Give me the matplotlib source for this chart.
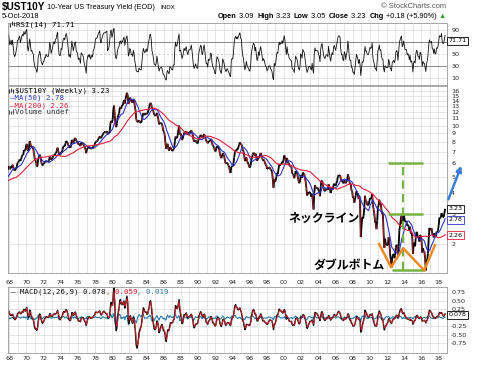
import numpy as np
import pandas as pd
import matplotlib
matplotlib.use("Agg")
import matplotlib.pyplot as plt
from matplotlib.collections import LineCollection
from matplotlib.transforms import blended_transform_factory

# monthly 10-year yield (%), Jan 1965 onward
y1965_69 = [4.19, 4.21, 4.21, 4.20, 4.21, 4.21, 4.20, 4.25, 4.29, 4.35, 4.45, 4.62,
            4.61, 4.83, 4.87, 4.75, 4.78, 4.81, 5.02, 5.22, 5.18, 5.01, 5.16, 4.84,
            4.58, 4.63, 4.54, 4.59, 4.85, 5.02, 5.16, 5.28, 5.30, 5.48, 5.75, 5.70,
            5.53, 5.56, 5.74, 5.64, 5.87, 5.72, 5.50, 5.42, 5.46, 5.58, 5.70, 6.03,
            6.04, 6.19, 6.30, 6.17, 6.32, 6.57, 6.72, 6.69, 7.16, 7.10, 7.14, 7.65]
y1970s = [7.79, 7.24, 7.07, 7.39, 8.10, 7.84, 7.46, 7.53, 7.39, 7.33, 6.84, 6.39,
          6.24, 6.11, 5.70, 5.83, 6.39, 6.52, 6.73, 6.58, 6.14, 5.93, 5.81, 5.93,
          5.95, 6.08, 6.07, 6.19, 6.13, 6.11, 6.11, 6.21, 6.55, 6.48, 6.28, 6.36,
          6.46, 6.64, 6.71, 6.67, 6.85, 6.90, 7.13, 7.40, 7.09, 6.79, 6.73, 6.74,
          6.99, 6.96, 7.21, 7.51, 7.58, 7.54, 7.81, 8.10, 8.04, 7.90, 7.68, 7.43,
          7.50, 7.39, 7.73, 8.23, 8.06, 7.86, 8.06, 8.40, 8.43, 8.14, 8.05, 8.00,
          7.74, 7.79, 7.73, 7.56, 7.90, 7.86, 7.83, 7.77, 7.59, 7.41, 7.29, 6.87,
          7.21, 7.39, 7.46, 7.37, 7.46, 7.28, 7.33, 7.40, 7.34, 7.52, 7.58, 7.69,
          8.01, 8.03, 8.04, 8.15, 8.35, 8.46, 8.64, 8.41, 8.42, 8.64, 8.81, 9.01,
          9.10, 9.10, 9.12, 9.18, 9.25, 8.91, 8.95, 9.03, 9.33, 10.30, 10.65, 10.39]
y1980s = [10.80, 12.41, 13.10, 11.47, 10.18, 9.78, 10.25, 11.10, 11.51, 11.75, 12.68, 12.84,
          12.57, 13.19, 13.12, 13.68, 14.10, 13.47, 14.28, 14.94, 15.60, 15.15, 13.39, 13.72,
          14.59, 14.43, 13.86, 13.87, 13.62, 14.30, 13.95, 13.06, 12.34, 10.91, 10.55, 10.54,
          10.46, 10.72, 10.51, 10.40, 10.38, 10.85, 11.38, 11.85, 11.65, 11.54, 11.69, 11.83,
          11.67, 11.84, 12.32, 12.63, 13.41, 13.60, 13.36, 12.72, 12.52, 12.16, 11.57, 11.50,
          11.38, 11.51, 11.86, 11.43, 10.85, 10.16, 10.31, 10.33, 10.37, 10.24, 9.78, 9.26,
          9.19, 8.70, 7.78, 7.30, 7.71, 7.80, 7.30, 7.10, 7.45, 7.43, 7.25, 7.11,
          7.08, 7.25, 7.25, 8.02, 8.61, 8.40, 8.45, 8.76, 9.42, 10.00, 8.86, 8.99,
          8.67, 8.21, 8.37, 8.72, 9.09, 8.92, 9.06, 9.26, 8.98, 8.80, 8.96, 9.11,
          9.09, 9.17, 9.36, 9.18, 8.86, 8.28, 8.02, 8.11, 8.19, 8.01, 7.87, 7.84]
y1990s = [8.21, 8.47, 8.59, 8.79, 8.76, 8.48, 8.47, 8.75, 8.89, 8.72, 8.39, 8.08,
          8.09, 7.85, 8.11, 8.04, 8.07, 8.28, 8.27, 7.90, 7.65, 7.53, 7.42, 7.09,
          7.03, 7.34, 7.54, 7.48, 7.39, 7.26, 6.84, 6.59, 6.42, 6.59, 6.87, 6.77,
          6.60, 6.26, 5.98, 5.97, 6.04, 5.96, 5.81, 5.68, 5.36, 5.25, 5.72, 5.77,
          5.75, 5.97, 6.48, 6.97, 7.18, 7.10, 7.30, 7.24, 7.46, 7.74, 7.96, 7.81,
          7.78, 7.47, 7.20, 7.06, 6.63, 6.17, 6.28, 6.49, 6.20, 6.04, 5.93, 5.71,
          5.65, 5.81, 6.27, 6.51, 6.74, 6.91, 6.87, 6.64, 6.83, 6.53, 6.20, 6.30,
          6.58, 6.42, 6.69, 6.89, 6.71, 6.49, 6.22, 6.30, 6.21, 6.03, 5.88, 5.81,
          5.54, 5.57, 5.65, 5.64, 5.65, 5.50, 5.46, 5.34, 4.81, 4.30, 4.83, 4.65,
          4.72, 5.00, 5.23, 5.18, 5.54, 5.90, 5.79, 5.94, 5.92, 6.11, 6.03, 6.28]
y2000s = [6.66, 6.52, 6.26, 5.99, 6.44, 6.10, 6.05, 5.83, 5.80, 5.74, 5.72, 5.24,
          5.16, 5.10, 4.89, 5.14, 5.39, 5.28, 5.24, 4.97, 4.73, 4.57, 4.65, 5.09,
          5.04, 4.91, 5.28, 5.21, 5.16, 4.93, 4.65, 4.26, 3.87, 3.94, 4.05, 4.03,
          4.05, 3.90, 3.81, 3.96, 3.57, 3.20, 3.98, 4.45, 4.27, 4.29, 4.30, 4.27,
          4.15, 4.08, 3.83, 4.35, 4.72, 4.73, 4.50, 4.28, 4.13, 4.10, 4.19, 4.23,
          4.22, 4.17, 4.50, 4.34, 4.14, 4.00, 4.18, 4.26, 4.20, 4.46, 4.54, 4.47,
          4.42, 4.57, 4.72, 4.99, 5.11, 5.11, 5.09, 4.88, 4.72, 4.73, 4.60, 4.56,
          4.76, 4.72, 4.56, 4.69, 4.75, 5.15, 5.00, 4.67, 4.52, 4.53, 4.15, 4.10,
          3.74, 3.74, 3.51, 3.68, 3.88, 4.10, 4.01, 3.89, 3.69, 3.81, 3.53, 2.20,
          2.52, 2.87, 2.82, 2.93, 3.29, 3.85, 3.56, 3.59, 3.40, 3.39, 3.40, 3.59]
y2010s = [3.73, 3.69, 3.73, 3.95, 3.42, 3.20, 3.01, 2.70, 2.65, 2.45, 2.76, 3.29,
          3.39, 3.65, 3.41, 3.46, 3.17, 3.00, 3.00, 2.30, 1.90, 2.15, 2.01, 1.98,
          1.97, 1.97, 2.20, 2.05, 1.75, 1.62, 1.45, 1.68, 1.72, 1.75, 1.65, 1.72,
          1.91, 1.98, 1.96, 1.70, 1.93, 2.40, 2.58, 2.80, 2.95, 2.62, 2.72, 3.00,
          2.86, 2.71, 2.72, 2.71, 2.56, 2.60, 2.54, 2.42, 2.53, 2.30, 2.33, 2.21,
          1.75, 1.98, 2.04, 1.94, 2.20, 2.36, 2.32, 2.17, 2.17, 2.07, 2.26, 2.24,
          2.09, 1.78, 1.89, 1.81, 1.81, 1.64, 1.40, 1.56, 1.63, 1.76, 2.14, 2.49,
          2.43, 2.42, 2.48, 2.30, 2.30, 2.19, 2.32, 2.21, 2.20, 2.36, 2.35, 2.40,
          2.58, 2.86, 2.84, 2.87, 3.05, 2.91, 2.89, 2.89, 3.05, 3.23]

tick_years = list(range(1968, 2019, 2))
main_ticks = [2, 3, 4, 5, 6, 7, 8, 9, 10, 11, 12, 13, 14, 15, 16]
rsi_ticks = [10, 30, 50, 90]
macd_ticks = [0.75, 0.5, 0.25, -0.25, -0.5, -0.75]
last_close, last_ma50, last_ma200 = 3.23, 2.78, 2.26

# pattern annotations (year, yield)
w_x = [2011.1, 2012.5, 2013.9, 2016.35, 2017.6]
w_y = [2.0, 1.46, 1.89, 1.40, 1.97]

yld = pd.Series(y1965_69 + y1970s + y1980s + y1990s + y2000s + y2010s)
t = 1965 + (np.arange(len(yld)) + 0.5) / 12.0

# weekly indicator settings expressed in months
wk = 12 / 52
ma50 = yld.rolling(12, min_periods=1).mean()
ma200 = yld.rolling(46, min_periods=1).mean()
d = yld.diff()
n = 7
up = d.clip(lower=0).ewm(alpha=1 / n, adjust=False).mean()
dn = (-d.clip(upper=0)).ewm(alpha=1 / n, adjust=False).mean()
rsi = 100 - 100 / (1 + up / dn)
macd = yld.ewm(span=12 * wk, adjust=False).mean() - yld.ewm(span=26 * wk, adjust=False).mean()
sig = macd.ewm(span=9 * wk, adjust=False).mean()
hist = macd - sig

W, H = 480, 373


def box(x0, y0, x1, y1):
    return [x0 / W, 1 - y1 / H, (x1 - x0) / W, (y1 - y0) / H]


plt.rcParams['font.family'] = ['DejaVu Sans']
fig = plt.figure(figsize=(4.8, 3.73), dpi=100)

ax_rsi = fig.add_axes(box(8, 23, 447, 85))
ax = fig.add_axes(box(8, 86, 447, 273))
ax_m = fig.add_axes(box(8, 287, 447, 353))

XL = (1967.85, 2019.01)
grid_c = '#dadada'
for a in (ax_rsi, ax, ax_m):
    a.set_xlim(*XL)
    a.set_xticks(tick_years)
    a.set_xticks(range(1968, 2020), minor=True)
    a.grid(True, which='both', axis='x', color=grid_c, lw=0.5)
    a.yaxis.tick_right()
    a.tick_params(axis='both', which='both', length=0, labelsize=4.6, colors='#222', pad=3)
    for s in a.spines.values():
        s.set_color('#999')
        s.set_linewidth(0.6)
    a.set_axisbelow(True)

yr_labels = ["%02d" % (y % 100) for y in tick_years]
ax.set_xticklabels(yr_labels)
ax_m.set_xticklabels(yr_labels)
ax_rsi.set_xticklabels([])
ax.tick_params(axis='x', pad=5)
ax_m.tick_params(axis='x', pad=2)

# RSI panel
ax_rsi.set_ylim(-1.7, 101.7)
ax_rsi.set_yticks(rsi_ticks)
ax_rsi.set_yticklabels([str(v) for v in rsi_ticks])
ax_rsi.axhline(70, color='#888', lw=0.7)
ax_rsi.axhline(30, color='#888', lw=0.7)
ax_rsi.axhline(50, color='#bbb', lw=0.5, ls=(0, (3, 3)))
for v in (10, 90):
    ax_rsi.axhline(v, color=grid_c, lw=0.5)
ax_rsi.plot(t, rsi, color='#111', lw=0.6)

# price panel
ax.set_yscale('log')
ax.set_ylim(1.35, 17.1)
ax.set_yticks(main_ticks)
ax.set_yticklabels([str(v) for v in main_ticks])
ax.yaxis.set_minor_locator(matplotlib.ticker.NullLocator())
ax.grid(True, which='major', axis='y', color=grid_c, lw=0.5)

pts = np.column_stack([t, yld.values])
segs = np.stack([pts[:-1], pts[1:]], axis=1)
ax.add_collection(LineCollection(segs, colors='black', linewidths=1.3, zorder=3))
down = np.diff(yld.values) < -0.15
ax.add_collection(LineCollection(segs[down], colors='#e8202a', linewidths=0.5, zorder=4))
ax.plot(t, ma50, color='#2d34c8', lw=0.8, zorder=5)
ax.plot(t, ma200, color='#e0203a', lw=0.8, zorder=5)

green = '#74b442'
ax.hlines([6.0, 3.0], 2012.1, 2016.2, color=green, lw=1.8, zorder=6)
ax.hlines(1.4, 2012.6, 2016.45, color=green, lw=1.8, zorder=6)
ax.vlines(2013.9, 1.4, 6.0, color=green, lw=1.5, linestyles=(0, (4, 2.5)), zorder=6)
ax.plot(w_x, w_y, color='#f08a24', lw=1.8, zorder=7)
ax.annotate("", xy=(2020.8, 6.0), xytext=(2019.05, 3.54),
            arrowprops=dict(arrowstyle='-|>', color='#3b7dd8', lw=1.8, mutation_scale=8),
            annotation_clip=False, zorder=8)

jp = ['Noto Sans CJK JP', 'DejaVu Sans']
ax.text(2004.7, 2.85, "ネックライン", fontsize=8.6, family=jp, weight='bold', ha='center', va='center', zorder=9)
ax.text(2007.6, 1.50, "ダブルボトム", fontsize=8.6, family=jp, weight='bold', ha='center', va='center', zorder=9)

tr = blended_transform_factory(ax.transAxes, ax.transData)
for val, col in ((last_close, 'black'), (last_ma50, '#2d34c8'), (last_ma200, '#e0203a')):
    ax.text(1.004, val, "%.2f" % val, transform=tr, fontsize=4.6, va='center', ha='left', clip_on=False,
            bbox=dict(boxstyle='square,pad=0.2', fc='white', ec=col, lw=0.6), zorder=10)
trr = blended_transform_factory(ax_rsi.transAxes, ax_rsi.transData)
ax_rsi.text(1.004, 71.71, "71.71", transform=trr, fontsize=4.6, va='center', ha='left', clip_on=False,
            bbox=dict(boxstyle='square,pad=0.2', fc='white', ec='black', lw=0.6), zorder=10)

# MACD panel
ax_m.set_ylim(-1.04, 0.90)
ax_m.set_yticks(macd_ticks)
ax_m.set_yticklabels(["%.2f" % v for v in macd_ticks])
ax_m.grid(True, which='major', axis='y', color=grid_c, lw=0.5)
ax_m.plot(t, hist, color='#2a7aa8', lw=0.8)
ax_m.plot(t, macd, color='#111', lw=1.0)
ax_m.plot(t, sig, color='#e0202a', lw=0.6)
trm = blended_transform_factory(ax_m.transAxes, ax_m.transData)
ax_m.text(1.004, 0.078, "0.078", transform=trm, fontsize=4.6, va='center', ha='left', clip_on=False,
          bbox=dict(boxstyle='square,pad=0.2', fc='white', ec='black', lw=0.6), zorder=10)

# pixel overlay for header and legends
ov = fig.add_axes([0, 0, 1, 1], zorder=20)
ov.set_xlim(0, W)
ov.set_ylim(H, 0)
ov.axis('off')


def chain(x, y, parts, size, family='DejaVu Sans'):
    txt = None
    for s, bold, col in parts:
        kw = dict(fontsize=size, color=col, weight='bold' if bold else 'normal', family=family)
        if txt is None:
            txt = ov.text(x, y, s, va='center', ha='left', **kw)
        else:
            txt = ov.annotate(s, xy=(1, 0), xycoords=txt, va='bottom', ha='left', **kw)


sans = 'Liberation Sans'
ov.text(2, 7, "$UST10Y", fontsize=7.2, weight='bold', family=sans, va='center')
ov.text(47, 7.5, "10-Year US Treasury Yield (EOD)", fontsize=5.2, family=sans, va='center')
ov.text(160, 7.8, "INDX", fontsize=4.4, family=sans, va='center')
ov.text(446, 6.5, "© StockCharts.com", fontsize=5.4, family=sans, color='#555', ha='right', va='center')
ov.text(2, 16, "5-Oct-2018", fontsize=5.4, family=sans, va='center')
chain(218, 16, [("Open", True, 'k'), (" 3.09  ", False, 'k'), ("High", True, 'k'), (" 3.23  ", False, 'k'),
                ("Low", True, 'k'), (" 3.05  ", False, 'k'), ("Close", True, 'k'), (" 3.23  ", False, 'k'),
                ("Chg", True, 'k'), (" +0.18 (+5.90%) ", False, 'k'), ("▲", False, '#2a9a2a')], 5.3, family=sans)

mono = 'DejaVu Sans Mono'
ms = 5.3
ov.vlines([10, 12, 14], [27, 25, 26], [23, 21, 22], color='#333', lw=0.8)
ov.text(16, 25, "RSI(14) 71.71", fontsize=ms, family=mono, va='center')
ov.vlines([9, 11, 13], [93, 92, 93], [89, 88, 89], color='#333', lw=0.8)
ov.text(15, 91, "$UST10Y (Weekly) 3.23", fontsize=ms, family=mono, va='center')
ov.text(10, 98, "—MA(50) 2.78", fontsize=ms, family=mono, va='center', color='#2d34c8')
ov.text(10, 105.5, "—MA(200) 2.26", fontsize=ms, family=mono, va='center', color='#e0203a')
ov.vlines([9, 11, 13], [114, 114, 114], [110, 111, 109], color='#555', lw=0.8)
ov.text(15, 112.5, "Volume undef", fontsize=ms, family=mono, va='center', color='#333')
chain(11, 292, [("— MACD(12,26,9) 0.078", False, '#111'), (", 0.059", False, '#e0202a'),
                (", 0.019", False, '#2a7aa8')], ms, family=mono)

fig.savefig("out.png", dpi=100)
